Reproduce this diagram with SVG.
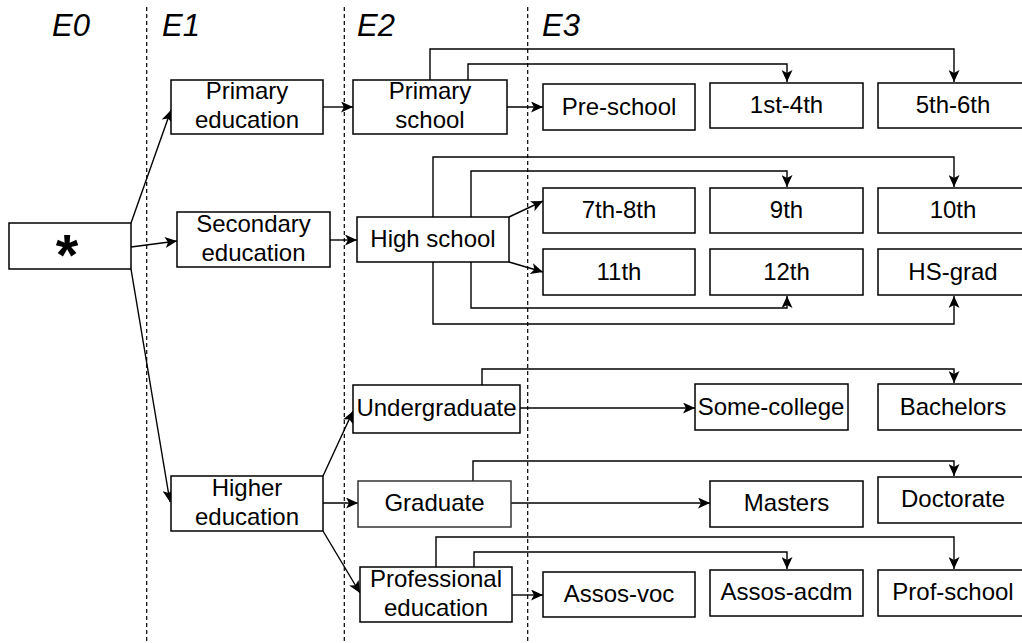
<svg xmlns="http://www.w3.org/2000/svg" width="1022" height="643" viewBox="0 0 1022 643">
  <defs>
    <marker id="arr" viewBox="0 0 12 11" refX="12" refY="5.5" markerWidth="12" markerHeight="11" markerUnits="userSpaceOnUse" orient="auto">
      <path d="M0,0 L12,5.5 L0,11 L3,5.5 Z" fill="#000"/>
    </marker>
    <style>
      .box { fill: #fff; stroke: #000; stroke-width: 1.5; }
      .box.soft { stroke: #333; }
      .lbl { font-family: "Liberation Sans", Arial, sans-serif; font-size: 24px; fill: #000; text-anchor: middle; }
      .lvl { font-family: "Liberation Sans", Arial, sans-serif; font-size: 31px; font-style: italic; fill: #000; }
      .guide { stroke: #000; stroke-width: 1.2; stroke-dasharray: 4 3; fill: none; }
      .edge { fill: none; stroke: #000; stroke-width: 1.4; marker-end: url(#arr); }
    </style>
  </defs>
  <rect width="1022" height="643" fill="#fff"/>

  <!-- level guides -->
  <g id="guides">
    <line class="guide" x1="146.7" y1="7" x2="146.7" y2="643"/>
    <line class="guide" x1="344.3" y1="7" x2="344.3" y2="643"/>
    <line class="guide" x1="527.7" y1="7" x2="527.7" y2="643"/>
    <text class="lvl" x="52" y="36">E0</text>
    <text class="lvl" x="162" y="36">E1</text>
    <text class="lvl" x="357" y="36">E2</text>
    <text class="lvl" x="542" y="36">E3</text>
  </g>

  <!-- connectors -->
  <g id="connectors">
    <path class="edge" d="M131,223 L171,110"/>
    <path class="edge" d="M131,247 L177,241"/>
    <path class="edge" d="M131,269 L170,502"/>
    <path class="edge" d="M323,107 L353,107"/>
    <path class="edge" d="M330,240 L357,240"/>
    <path class="edge" d="M323,476 L353,411"/>
    <path class="edge" d="M323,503 L358,503"/>
    <path class="edge" d="M323,531 L360,593"/>
    <path class="edge" d="M507,107 L543,107"/>
    <path class="edge" d="M468,80 V64 H787 V82"/>
    <path class="edge" d="M430,80 V49 H954 V82"/>
    <path class="edge" d="M471,217 V171 H787 V187"/>
    <path class="edge" d="M433,217 V157 H954 V187"/>
    <path class="edge" d="M471,262 V308 H787 V296"/>
    <path class="edge" d="M433,262 V324 H954 V296"/>
    <path class="edge" d="M509,217 L543,201"/>
    <path class="edge" d="M509,262 L543,272"/>
    <path class="edge" d="M520,408 L695,408"/>
    <path class="edge" d="M482,385 V369 H954 V383"/>
    <path class="edge" d="M511,503 L710,503"/>
    <path class="edge" d="M473,481 V461 H954 V476"/>
    <path class="edge" d="M512,595 L543,595"/>
    <path class="edge" d="M474,567 V552 H787 V569"/>
    <path class="edge" d="M436,567 V537 H954 V569"/>
  </g>

  <!-- E0 -->
  <g id="root">
    <rect class="box" x="9" y="223" width="122" height="46"/>
    <text x="67" y="275" font-family="Liberation Sans, Arial, sans-serif" font-size="58" font-weight="bold" text-anchor="middle">*</text>
  </g>

  <!-- E1 -->
  <g id="primary-education">
    <rect class="box" x="171" y="80" width="152" height="54"/>
    <text class="lbl" x="247" y="99">Primary<tspan x="247" dy="29">education</tspan></text>
  </g>
  <g id="secondary-education">
    <rect class="box" x="177" y="212" width="153" height="55"/>
    <text class="lbl" x="253.5" y="232">Secondary<tspan x="253.5" dy="29">education</tspan></text>
  </g>
  <g id="higher-education">
    <rect class="box" x="171" y="476" width="152" height="55"/>
    <text class="lbl" x="247" y="495.5">Higher<tspan x="247" dy="29">education</tspan></text>
  </g>

  <!-- E2 -->
  <g id="primary-school">
    <rect class="box" x="353" y="80" width="154" height="54"/>
    <text class="lbl" x="430" y="99">Primary<tspan x="430" dy="29">school</tspan></text>
  </g>
  <g id="high-school">
    <rect class="box" x="357" y="217" width="152" height="45"/>
    <text class="lbl" x="433" y="247">High school</text>
  </g>
  <g id="undergraduate">
    <rect class="box" x="353" y="385" width="167" height="48"/>
    <text class="lbl" x="436.5" y="416">Undergraduate</text>
  </g>
  <g id="graduate">
    <rect class="box soft" x="358" y="481" width="153" height="46"/>
    <text class="lbl" x="434.5" y="511">Graduate</text>
  </g>
  <g id="professional-education">
    <rect class="box" x="360" y="567" width="152" height="55"/>
    <text class="lbl" x="436" y="586.5">Professional<tspan x="436" dy="29">education</tspan></text>
  </g>

  <!-- E3 -->
  <g id="pre-school">
    <rect class="box" x="543" y="84" width="152" height="46"/>
    <text class="lbl" x="619" y="115">Pre-school</text>
  </g>
  <g id="g1st-4th">
    <rect class="box" x="710" y="83" width="153" height="45"/>
    <text class="lbl" x="786.5" y="113">1st-4th</text>
  </g>
  <g id="g5th-6th">
    <rect class="box" x="878" y="83" width="152" height="45"/>
    <text class="lbl" x="953" y="113">5th-6th</text>
  </g>
  <g id="g7th-8th">
    <rect class="box" x="543" y="188" width="152" height="45"/>
    <text class="lbl" x="619" y="218">7th-8th</text>
  </g>
  <g id="g9th">
    <rect class="box" x="710" y="188" width="153" height="45"/>
    <text class="lbl" x="786.5" y="218">9th</text>
  </g>
  <g id="g10th">
    <rect class="box" x="878" y="188" width="152" height="45"/>
    <text class="lbl" x="953" y="218">10th</text>
  </g>
  <g id="g11th">
    <rect class="box" x="543" y="249" width="152" height="46"/>
    <text class="lbl" x="619" y="280">11th</text>
  </g>
  <g id="g12th">
    <rect class="box" x="710" y="249" width="153" height="46"/>
    <text class="lbl" x="786.5" y="280">12th</text>
  </g>
  <g id="hs-grad">
    <rect class="box" x="878" y="249" width="152" height="46"/>
    <text class="lbl" x="953" y="280">HS-grad</text>
  </g>
  <g id="some-college">
    <rect class="box" x="695" y="384" width="153" height="46"/>
    <text class="lbl" x="771" y="415">Some-college</text>
  </g>
  <g id="bachelors">
    <rect class="box" x="878" y="384" width="152" height="46"/>
    <text class="lbl" x="953" y="415">Bachelors</text>
  </g>
  <g id="masters">
    <rect class="box" x="710" y="481" width="153" height="46"/>
    <text class="lbl" x="786.5" y="511">Masters</text>
  </g>
  <g id="doctorate">
    <rect class="box" x="878" y="477" width="152" height="46"/>
    <text class="lbl" x="953" y="507">Doctorate</text>
  </g>
  <g id="assos-voc">
    <rect class="box" x="543" y="572" width="152" height="45"/>
    <text class="lbl" x="619" y="602">Assos-voc</text>
  </g>
  <g id="assos-acdm">
    <rect class="box" x="710" y="570" width="153" height="46"/>
    <text class="lbl" x="786.5" y="600">Assos-acdm</text>
  </g>
  <g id="prof-school">
    <rect class="box" x="878" y="570" width="152" height="46"/>
    <text class="lbl" x="953" y="600">Prof-school</text>
  </g>
</svg>
